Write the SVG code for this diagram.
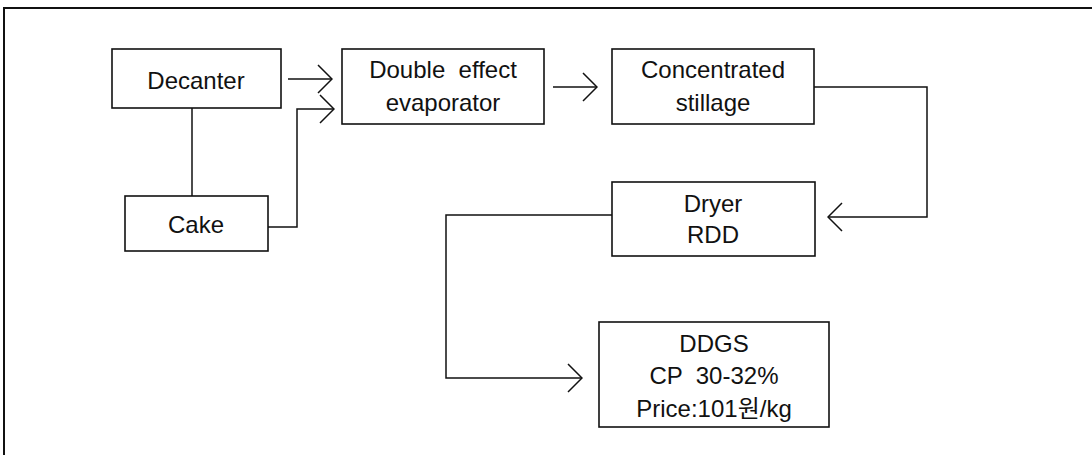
<svg xmlns="http://www.w3.org/2000/svg" width="1092" height="455" viewBox="0 0 1092 455">
<style>
.box{fill:#fff;stroke:#111;stroke-width:1.6}
.t{font-family:"Liberation Sans","Noto Sans CJK KR",sans-serif;font-size:24px;fill:#111;text-anchor:middle;white-space:pre}
.c{fill:none;stroke:#111;stroke-width:1.5}
</style>
<defs>
<marker id="ar" markerUnits="userSpaceOnUse" viewBox="0 0 16 30" refX="15" refY="15" markerWidth="16" markerHeight="30" orient="auto">
<path d="M1,1 L15,15 L1,29" fill="none" stroke="#111" stroke-width="1.5"/>
</marker>
</defs>
<g id="frame">
<path d="M4,455 V8 H1092" fill="none" stroke="#111" stroke-width="2"/>
</g>
<g id="connectors">
<line class="c" x1="192" y1="108" x2="192" y2="196"/>
<path class="c" d="M288,79 H332" marker-end="url(#ar)"/>
<path class="c" d="M268,227 H297 V109 H334" marker-end="url(#ar)"/>
<path class="c" d="M553,87 H597" marker-end="url(#ar)"/>
<path class="c" d="M814,87 H927 V217 H828" marker-end="url(#ar)"/>
<path class="c" d="M612,215 H446 V378 H582" marker-end="url(#ar)"/>
</g>
<g id="decanter">
<rect class="box" x="112" y="49" width="169" height="59"/>
<text class="t" x="196" y="89">Decanter</text>
</g>
<g id="cake">
<rect class="box" x="125" y="196" width="143" height="55"/>
<text class="t" x="196" y="233">Cake</text>
</g>
<g id="evaporator">
<rect class="box" x="342" y="49" width="202" height="75"/>
<text class="t" x="443" y="78">Double  effect</text>
<text class="t" x="443" y="111">evaporator</text>
</g>
<g id="stillage">
<rect class="box" x="612" y="49" width="202" height="75"/>
<text class="t" x="713" y="78">Concentrated</text>
<text class="t" x="713" y="111">stillage</text>
</g>
<g id="dryer">
<rect class="box" x="612" y="182" width="203" height="74"/>
<text class="t" x="713" y="212">Dryer</text>
<text class="t" x="713" y="243">RDD</text>
</g>
<g id="ddgs">
<rect class="box" x="599" y="322" width="230" height="105"/>
<text class="t" x="714" y="352">DDGS</text>
<text class="t" x="714" y="384">CP  30-32%</text>
<text class="t" x="714" y="417">Price:101원/kg</text>
</g>
</svg>
